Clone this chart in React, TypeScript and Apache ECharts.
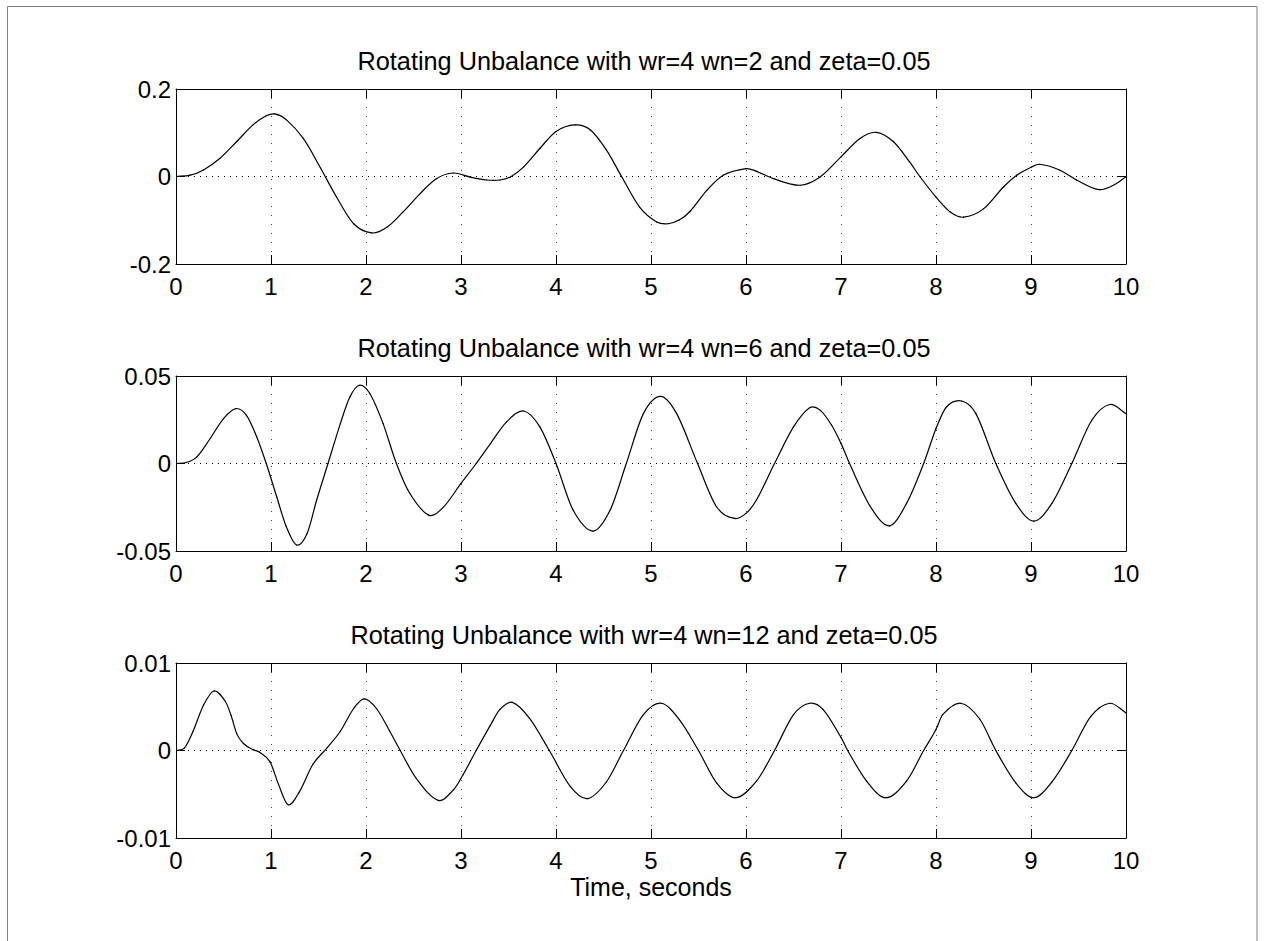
import React, { useEffect, useRef } from "react";
import * as echarts from "echarts";

// Response of a rotating-unbalance system for three natural frequencies
const titles = [
  "Rotating Unbalance with wr=4 wn=2 and zeta=0.05",
  "Rotating Unbalance with wr=4 wn=6 and zeta=0.05",
  "Rotating Unbalance with wr=4 wn=12 and zeta=0.05",
];
const xLabel = "Time, seconds";
const xTickLabels = ["0", "1", "2", "3", "4", "5", "6", "7", "8", "9", "10"];

// wn = 2
const timeA = [0, 0.15, 0.29, 0.46, 0.64, 0.81, 0.95, 1.04, 1.16, 1.34, 1.52, 1.69, 1.87, 2.06, 2.22, 2.39, 2.57, 2.74, 2.92, 3.09, 3.27, 3.41, 3.52, 3.66, 3.83, 4.0, 4.2, 4.36, 4.53, 4.69, 4.88, 5.06, 5.18, 5.3, 5.41, 5.59, 5.76, 6.0, 6.1, 6.29, 6.57, 6.78, 7.0, 7.2, 7.37, 7.55, 7.72, 7.83, 8.0, 8.15, 8.29, 8.5, 8.71, 8.85, 9.0, 9.09, 9.3, 9.48, 9.72, 9.9, 10.0];
const respA = [0, 0.003, 0.015, 0.041, 0.08, 0.118, 0.139, 0.143, 0.13, 0.087, 0.02, -0.047, -0.108, -0.129, -0.116, -0.081, -0.039, -0.005, 0.008, -0.001, -0.008, -0.008, -0.001, 0.022, 0.064, 0.103, 0.118, 0.107, 0.061, 0, -0.07, -0.104, -0.108, -0.099, -0.08, -0.031, 0.003, 0.018, 0.013, -0.005, -0.02, -0.001, 0.045, 0.087, 0.101, 0.08, 0.034, 0, -0.047, -0.081, -0.093, -0.074, -0.024, 0.003, 0.021, 0.028, 0.015, -0.008, -0.03, -0.016, 0];
const yTicksA = ["-0.2", "0", "0.2"];

// wn = 6
const timeB = [0, 0.11, 0.22, 0.36, 0.5, 0.63, 0.74, 0.85, 0.95, 1.06, 1.16, 1.27, 1.38, 1.48, 1.6, 1.73, 1.83, 1.93, 2.04, 2.18, 2.32, 2.46, 2.66, 2.81, 3.0, 3.16, 3.31, 3.48, 3.66, 3.83, 4.0, 4.18, 4.39, 4.57, 4.74, 4.92, 5.1, 5.27, 5.49, 5.69, 5.88, 6.0, 6.11, 6.3, 6.5, 6.67, 6.78, 6.9, 7.0, 7.09, 7.31, 7.51, 7.69, 7.87, 8.0, 8.11, 8.27, 8.42, 8.63, 8.84, 9.03, 9.22, 9.43, 9.64, 9.83, 10.0];
const respB = [0, 0.0006, 0.0038, 0.0143, 0.0257, 0.0314, 0.0276, 0.0152, 0, -0.019, -0.036, -0.0466, -0.04, -0.021, 0, 0.0228, 0.038, 0.0447, 0.04, 0.0228, 0, -0.017, -0.0295, -0.0252, -0.0114, 0, 0.0114, 0.0238, 0.03, 0.0209, 0, -0.0266, -0.0386, -0.0266, 0, 0.0285, 0.0384, 0.0285, 0, -0.0247, -0.0314, -0.0285, -0.0209, 0, 0.0209, 0.0319, 0.0305, 0.022, 0.0115, 0, -0.0247, -0.0356, -0.0228, 0, 0.02, 0.0323, 0.0357, 0.0285, 0, -0.0228, -0.0329, -0.0228, 0, 0.0247, 0.0337, 0.0285];
const yTicksB = ["-0.05", "0", "0.05"];

// wn = 12
const timeC = [0, 0.09, 0.18, 0.29, 0.4, 0.52, 0.58, 0.64, 0.71, 0.81, 0.88, 0.99, 1.08, 1.18, 1.3, 1.44, 1.59, 1.73, 1.87, 1.98, 2.11, 2.25, 2.36, 2.53, 2.76, 2.92, 3.02, 3.16, 3.31, 3.41, 3.54, 3.72, 3.93, 4.15, 4.33, 4.53, 4.71, 4.92, 5.11, 5.3, 5.5, 5.69, 5.89, 6.11, 6.3, 6.5, 6.67, 6.81, 7.0, 7.07, 7.27, 7.47, 7.69, 7.87, 8.0, 8.07, 8.26, 8.46, 8.63, 8.84, 9.03, 9.22, 9.43, 9.63, 9.83, 10.0];
const respC = [0, 0.0003, 0.0022, 0.0052, 0.0068, 0.0056, 0.004, 0.0019, 0.0008, 0.0001, -0.0002, -0.0013, -0.0039, -0.0062, -0.0047, -0.0016, 0.0003, 0.0022, 0.0048, 0.0059, 0.0048, 0.0022, 0, -0.0032, -0.0057, -0.0045, -0.0028, 0, 0.0029, 0.0047, 0.0055, 0.0037, 0, -0.0041, -0.0055, -0.0036, 0, 0.0041, 0.0054, 0.0035, 0, -0.0037, -0.0054, -0.0035, 0, 0.0041, 0.0054, 0.0047, 0.0015, 0, -0.0035, -0.0054, -0.0035, 0, 0.0024, 0.0041, 0.0054, 0.0036, 0, -0.0037, -0.0054, -0.0036, 0, 0.0039, 0.0054, 0.0043];
const yTicksC = ["-0.01", "0", "0.01"];

const panels = [
  { time: timeA, resp: respA, yTicks: yTicksA, yMin: -0.2, yStep: 0.2 },
  { time: timeB, resp: respB, yTicks: yTicksB, yMin: -0.05, yStep: 0.05 },
  { time: timeC, resp: respC, yTicks: yTicksC, yMin: -0.01, yStep: 0.01 },
];

const FONT = "'Liberation Sans', Arial, Helvetica, sans-serif";
const PLOT_LEFT = 176;
const PLOT_WIDTH = 950;
const PLOT_TOPS = [89, 376, 663];
const PLOT_HEIGHT = 175;

// Tangent of the sampled curve at sample j (central difference)
function slopeAt(t: number[], v: number[], j: number): number {
  const n = t.length;
  if (j <= 0) return (v[1] - v[0]) / (t[1] - t[0]);
  if (j >= n - 1) return (v[n - 1] - v[n - 2]) / (t[n - 1] - t[n - 2]);
  return (v[j + 1] - v[j - 1]) / (t[j + 1] - t[j - 1]);
}

// Each sample k draws the cubic Hermite piece from sample k to sample k+1
function curveRenderer(t: number[], v: number[]) {
  return (params: any, api: any) => {
    const k = params.dataIndex;
    if (k >= t.length - 1) return null;
    const h = t[k + 1] - t[k];
    const s0 = slopeAt(t, v, k);
    const s1 = slopeAt(t, v, k + 1);
    const p0 = api.coord([t[k], v[k]]);
    const p3 = api.coord([t[k + 1], v[k + 1]]);
    const c1 = api.coord([t[k] + h / 3, v[k] + (s0 * h) / 3]);
    const c2 = api.coord([t[k + 1] - h / 3, v[k + 1] - (s1 * h) / 3]);
    return {
      type: "bezierCurve",
      shape: {
        x1: p0[0], y1: p0[1], x2: p3[0], y2: p3[1],
        cpx1: c1[0], cpy1: c1[1], cpx2: c2[0], cpy2: c2[1],
      },
      style: { stroke: "#000", lineWidth: 1.2, fill: null, lineCap: "round" },
    };
  };
}

function buildOption(): echarts.EChartsOption {
  const grid: any[] = [];
  const xAxis: any[] = [];
  const yAxis: any[] = [];
  const series: any[] = [];
  const title: any[] = [];

  const tick = { show: true, inside: true, length: 9, lineStyle: { color: "#000", width: 1 } };
  const frameLine = { show: true, onZero: false, lineStyle: { color: "#000", width: 1 } };

  panels.forEach((p, i) => {
    grid.push({ left: PLOT_LEFT, width: PLOT_WIDTH, top: PLOT_TOPS[i], height: PLOT_HEIGHT, containLabel: false });
    title.push({
      text: titles[i],
      left: 639,
      top: PLOT_TOPS[i] - 46,
      textAlign: "center",
      textStyle: { fontFamily: FONT, fontSize: 25.3, fontWeight: "normal", color: "#000" },
    });
    const isLast = i === panels.length - 1;
    xAxis.push({
      type: "value",
      gridIndex: i,
      position: "bottom",
      min: 0,
      max: 10,
      interval: 1,
      axisLine: frameLine,
      axisTick: tick,
      axisLabel: {
        color: "#000",
        fontFamily: FONT,
        fontSize: 24,
        margin: 10,
        formatter: (v: number) => xTickLabels[Math.round(v)] ?? "",
      },
      splitLine: { show: true, lineStyle: { color: "#444", width: 1, type: [1, 8] } },
      name: isLast ? xLabel : "",
      nameLocation: "middle",
      nameGap: 36,
      nameTextStyle: { fontFamily: FONT, fontSize: 25, color: "#000" },
    });
    xAxis.push({
      type: "value",
      gridIndex: i,
      position: "top",
      min: 0,
      max: 10,
      interval: 1,
      axisLine: frameLine,
      axisTick: tick,
      axisLabel: { show: false },
      splitLine: { show: false },
    });
    yAxis.push({
      type: "value",
      gridIndex: i,
      position: "left",
      min: p.yMin,
      max: -p.yMin,
      interval: p.yStep,
      axisLine: frameLine,
      axisTick: tick,
      axisLabel: {
        color: "#000",
        fontFamily: FONT,
        fontSize: 24,
        margin: 5,
        formatter: (v: number) => p.yTicks[Math.round((v - p.yMin) / p.yStep)] ?? "",
      },
      splitLine: { show: true, lineStyle: { color: "#000", width: 1, type: [1, 5] } },
    });
    yAxis.push({
      type: "value",
      gridIndex: i,
      position: "right",
      min: p.yMin,
      max: -p.yMin,
      interval: p.yStep,
      axisLine: frameLine,
      axisTick: tick,
      axisLabel: { show: false },
      splitLine: { show: false },
    });
    series.push({
      type: "custom",
      xAxisIndex: i * 2,
      yAxisIndex: i * 2,
      data: p.time.map((t, k) => [t, p.resp[k]]),
      encode: { x: 0, y: 1 },
      renderItem: curveRenderer(p.time, p.resp),
      clip: true,
      silent: true,
      z: 3,
    });
  });

  return {
    animation: false,
    backgroundColor: "#fff",
    title,
    grid,
    xAxis,
    yAxis,
    series,
    graphic: [
      {
        type: "rect",
        silent: true,
        shape: { x: 7.5, y: 6.5, width: 1249.5, height: 1000 },
        style: { fill: "none", stroke: "#808080", lineWidth: 1 },
        z: 10,
      },
    ],
  };
}

export default function App() {
  const ref = useRef<HTMLDivElement>(null);
  useEffect(() => {
    if (!ref.current) return;
    const chart = echarts.init(ref.current, undefined, { renderer: "svg" });
    chart.setOption(buildOption());
    return () => chart.dispose();
  }, []);
  return (
    <div
      ref={ref}
      style={{ position: "absolute", left: 0, top: 0, width: 1264, height: 941, background: "#fff" }}
    />
  );
}
